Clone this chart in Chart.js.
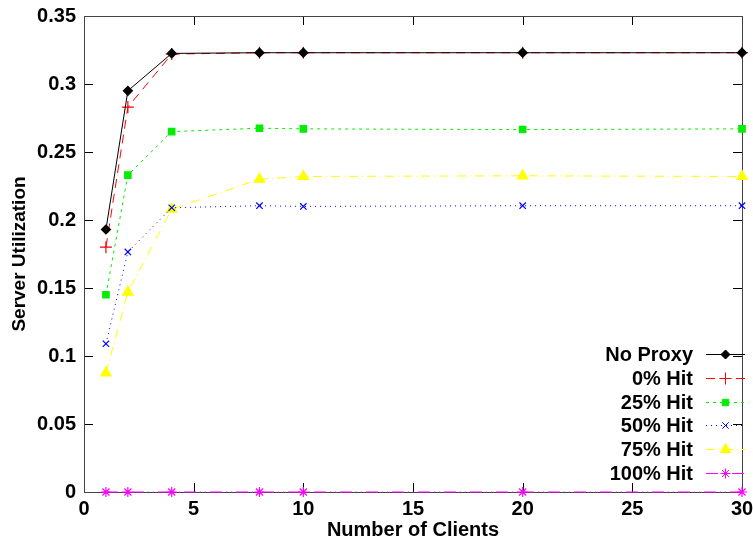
<!DOCTYPE html>
<html>
<head>
<meta charset="utf-8">
<script src="https://cdn.jsdelivr.net/npm/chart.js@4.4.1/dist/chart.umd.min.js"></script>
<style>
  html, body { margin: 0; padding: 0; background: #fff; }
  #wrap { width: 753px; height: 542px; }
</style>
</head>
<body>
<div id="wrap"><canvas id="utilChart" width="753" height="542"></canvas></div>
<script>
// number of clients on the x axis
const clients = [1, 2, 4, 8, 10, 20, 30];

// server utilization per configuration
const noProxy = [0.193, 0.295, 0.3225, 0.323, 0.323, 0.323, 0.323];
const hit0 = [0.180, 0.283, 0.322, 0.323, 0.323, 0.323, 0.323];
const hit25 = [0.145, 0.233, 0.265, 0.2675, 0.267, 0.2665, 0.267];
const hit50 = [0.109, 0.1765, 0.209, 0.2105, 0.210, 0.2105, 0.2105];
const hit75 = [0.0875, 0.147, 0.208, 0.230, 0.232, 0.2325, 0.232];
const hit100 = [0, 0, 0, 0, 0, 0, 0];

const xTicks = [0, 5, 10, 15, 20, 25, 30];
const yTicks = [0, 0.05, 0.1, 0.15, 0.2, 0.25, 0.3, 0.35];

const FONT = "'Liberation Sans', Arial, sans-serif";

const seriesDefs = [
  { label: "No Proxy", data: noProxy, color: "#000000", dash: [], point: "rectRot", radius: 4.5 },
  { label: "0% Hit", data: hit0, color: "#ff0000", dash: [9, 6], point: "cross", radius: 6 },
  { label: "25% Hit", data: hit25, color: "#00ee00", dash: [3, 4], point: "rect", radius: 4.5 },
  { label: "50% Hit", data: hit50, color: "#0000ff", dash: [1, 4], point: "crossRot", radius: 4.5 },
  { label: "75% Hit", data: hit75, color: "#ffff00", dash: [9, 4, 1, 4], point: "triangle", radius: 6 },
  { label: "100% Hit", data: hit100, color: "#ff00ff", dash: [12, 4, 1, 4, 1, 4], point: "star", radius: 5 },
];

function toPoints(values) {
  return clients.map((c, i) => ({ x: c, y: values[i] }));
}

const datasets = seriesDefs.map((s) => ({
  label: s.label,
  data: toPoints(s.data),
  borderColor: s.color,
  backgroundColor: s.color,
  borderWidth: 1,
  borderDash: s.dash,
  pointStyle: s.point,
  pointRadius: s.radius,
  pointBorderColor: s.color,
  pointBackgroundColor: s.color,
  pointBorderWidth: 1.2,
  tension: 0,
  fill: false,
  clip: false,
}));

// frame with inward ticks on all four sides, gnuplot style
const framePlugin = {
  id: "frame",
  beforeDatasetsDraw(chart) {
    const { ctx, chartArea: a, scales } = chart;
    ctx.save();
    ctx.strokeStyle = "#000";
    ctx.lineWidth = 1;
    ctx.setLineDash([]);
    ctx.beginPath();
    xTicks.forEach((t) => {
      const px = Math.round(scales.x.getPixelForValue(t)) + 0.5;
      ctx.moveTo(px, a.bottom);
      ctx.lineTo(px, a.bottom - 9);
      ctx.moveTo(px, a.top);
      ctx.lineTo(px, a.top + 9);
    });
    yTicks.forEach((t) => {
      const py = Math.round(scales.y.getPixelForValue(t)) + 0.5;
      ctx.moveTo(a.left, py);
      ctx.lineTo(a.left + 9, py);
      ctx.moveTo(a.right, py);
      ctx.lineTo(a.right - 9, py);
    });
    ctx.stroke();
    ctx.strokeStyle = "#444";
    ctx.strokeRect(Math.round(a.left) + 0.5, Math.round(a.top) + 0.5,
      Math.round(a.right - a.left), Math.round(a.bottom - a.top));
    ctx.restore();
  },
};

// legend: right-aligned labels with line sample and marker on the right
const legendPlugin = {
  id: "sideLegend",
  afterDraw(chart) {
    const { ctx } = chart;
    const textRight = 693;
    const lineLeft = 706;
    const lineRight = 745;
    const firstY = 354;
    const step = 23.8;
    ctx.save();
    ctx.font = "bold 20px " + FONT;
    ctx.textAlign = "right";
    ctx.textBaseline = "middle";
    seriesDefs.forEach((s, i) => {
      const y = Math.round(firstY + i * step);
      ctx.fillStyle = "#000";
      ctx.fillText(s.label, textRight, y + 1);
      ctx.strokeStyle = s.color;
      ctx.lineWidth = 1;
      ctx.setLineDash(s.dash);
      ctx.beginPath();
      ctx.moveTo(lineLeft, y + 0.5);
      ctx.lineTo(lineRight, y + 0.5);
      ctx.stroke();
      ctx.setLineDash([]);
      ctx.fillStyle = s.color;
      Chart.helpers.drawPoint(ctx, {
        pointStyle: s.point,
        radius: s.radius,
        borderWidth: 1.2,
        rotation: 0,
      }, (lineLeft + lineRight) / 2, y + 0.5);
    });
    ctx.restore();
  },
};

new Chart(document.getElementById("utilChart"), {
  type: "line",
  data: { datasets: datasets },
  options: {
    responsive: false,
    animation: false,
    devicePixelRatio: 1,
    layout: { padding: { top: 16, right: 11, left: 0, bottom: 0 } },
    plugins: {
      legend: { display: false },
      tooltip: { enabled: false },
    },
    scales: {
      x: {
        type: "linear",
        min: 0,
        max: 30,
        grid: { display: false, drawTicks: false },
        border: { display: false },
        afterBuildTicks: (scale) => { scale.ticks = xTicks.map((v) => ({ value: v })); },
        afterFit: (scale) => {
          scale.height = 50;
          scale.paddingLeft = 0;
          scale.paddingRight = 0;
        },
        ticks: {
          padding: 5,
          color: "#000",
          maxRotation: 0,
          font: { family: FONT, size: 20, weight: "bold" },
          callback: (v) => String(v),
        },
        title: {
          display: true,
          text: "Number of Clients",
          color: "#000",
          padding: { top: 0, bottom: 0 },
          font: { family: FONT, size: 20, weight: "bold" },
        },
      },
      y: {
        type: "linear",
        min: 0,
        max: 0.35,
        grid: { display: false, drawTicks: false },
        border: { display: false },
        afterBuildTicks: (scale) => { scale.ticks = yTicks.map((v) => ({ value: v })); },
        afterFit: (scale) => {
          scale.width = 84;
          scale.paddingTop = 0;
          scale.paddingBottom = 0;
        },
        ticks: {
          padding: 8,
          color: "#000",
          font: { family: FONT, size: 20, weight: "bold" },
          callback: (v) => String(Math.round(v * 100) / 100),
        },
        title: {
          display: true,
          text: "Server Utilization",
          color: "#000",
          padding: { top: 8, bottom: 0 },
          font: { family: FONT, size: 19, weight: "bold" },
        },
      },
    },
  },
  plugins: [framePlugin, legendPlugin],
});
</script>
</body>
</html>
